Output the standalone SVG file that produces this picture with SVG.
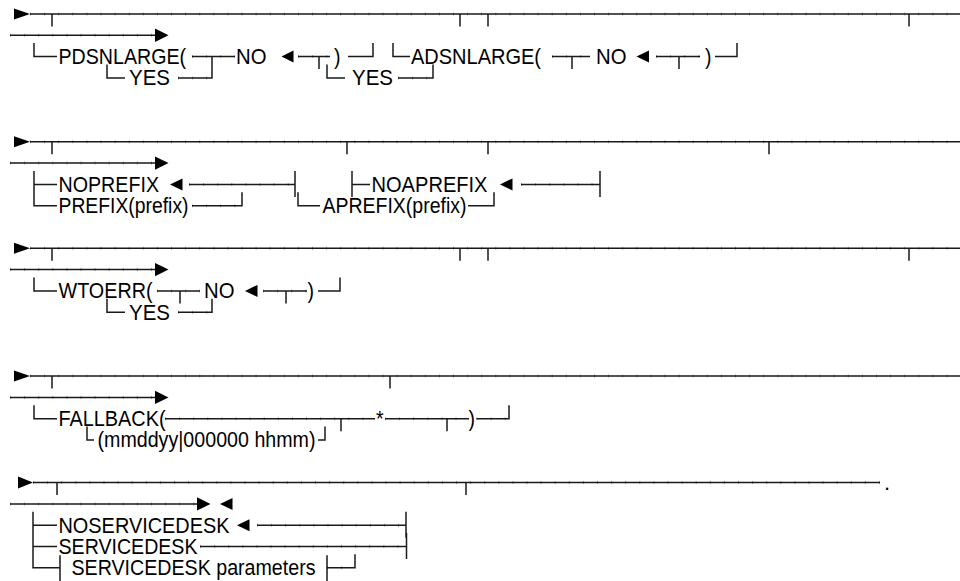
<svg xmlns="http://www.w3.org/2000/svg" width="960" height="581" viewBox="0 0 960 581">
<style>
.ln{fill:none;stroke:#1a1a1a;stroke-width:1.5}
.tk{fill:none;stroke:#000;stroke-width:3;stroke-dasharray:1 13.1;opacity:.35}
.t{font-family:"Liberation Sans",Arial,sans-serif;font-size:22px;fill:#000}
.ar{fill:#000}
</style>
<rect width="960" height="581" fill="#fff"/>
<g id="connectors">
<!-- block 1 -->
<path class="ln" d="M30,14H960M52,14V26.5M460,14V26.5M488,14V26.5M909,14V26.5M10,35.3H155M34,43.1V56.6H57M192,56.6H235M212,56.6V69M298,56.6H330M319,56.6V69M348,56.6H373V43.1M393,43.1V56.6H410M552,56.6H590M572,56.6V69M656,56.6H700M679,56.6V69M715,56.6H737V43.1M107,64.4V77.9H125M178,77.9H212V64.4M327,64.4V77.9H345M398,77.9H433V64.4"/>
<path class="tk" d="M30,14H960M10,35.3H155M192,56.6H235M298,56.6H330M552,56.6H590M656,56.6H700M178,77.9H212M398,77.9H433"/>
<polygon class="ar" points="14,8.5 30,14 14,19.5"/>
<polygon class="ar" points="155,28.6 168.5,35.3 155,42"/>
<polygon class="ar" points="281.5,56.6 293.5,50.6 293.5,62.6"/>
<polygon class="ar" points="636.5,56.6 649,50.6 649,62.6"/>
<!-- block 2 -->
<path class="ln" d="M30,141.8H960M52,141.8V154.3M347,141.8V154.3M488,141.8V154.3M769,141.8V154.3M10,163.1H155M34,170.9V205.7H57M34,184.4H57M189,184.4H295M295,170.9V196.9M192,205.7H242V192.2M298,192.2V205.7H320M468,205.7H494V192.2M352,170.9V196.9M352,184.4H370M521,184.4H600M600,170.9V196.9"/>
<path class="tk" d="M30,141.8H960M10,163.1H155M189,184.4H295M192,205.7H242M521,184.4H600"/>
<polygon class="ar" points="14,136.3 30,141.8 14,147.3"/>
<polygon class="ar" points="155,156.4 168.5,163.1 155,169.8"/>
<polygon class="ar" points="170,184.4 182.5,178.4 182.5,190.4"/>
<polygon class="ar" points="500,184.4 512.5,178.4 512.5,190.4"/>
<!-- block 3 -->
<path class="ln" d="M30,248.3H960M52,248.3V260.8M460,248.3V260.8M488,248.3V260.8M909,248.3V260.8M10,269.6H155M34,277.4V290.9H57M157,290.9H200M180,290.9V303.4M263,290.9H307M286,290.9V303.4M318,290.9H340V277.4M107,298.7V312.2H125M178,312.2H212V298.7"/>
<path class="tk" d="M30,248.3H960M10,269.6H155M157,290.9H200M263,290.9H307M178,312.2H212"/>
<polygon class="ar" points="14,242.8 30,248.3 14,253.8"/>
<polygon class="ar" points="155,262.9 168.5,269.6 155,276.3"/>
<polygon class="ar" points="245,290.9 257.5,284.9 257.5,296.9"/>
<!-- block 4 -->
<path class="ln" d="M30,376.1H960M52,376.1V388.6M390,376.1V388.6M10,397.4H155M34,405.2V418.7H57M165,418.7H375M385,418.7H469M341,418.7V431.2M447,418.7V431.2M476.5,418.7H509V405.2M87,426.5V440H94M318,440H325V426.5"/>
<path class="tk" d="M30,376.1H960M10,397.4H155M165,418.7H375M385,418.7H469M476.5,418.7H509"/>
<polygon class="ar" points="14,370.6 30,376.1 14,381.6"/>
<polygon class="ar" points="155,390.7 168.5,397.4 155,404.1"/>
<!-- block 5 -->
<path class="ln" d="M33,482.6H880M57,482.6V495.1M466,482.6V495.1M10,503.9H197M33,511.7V567.8H60M33,525.2H57M33,546.5H57M257,525.2H406M406,511.7V537.7M200,546.5H406.5M406.5,533V559M60,555.3V581M327,555.3V581M327,567.8H355V554.3"/>
<path class="tk" d="M33,482.6H880M10,503.9H197M257,525.2H406M200,546.5H406.5M327,567.8H355"/>
<polygon class="ar" points="18,476.6 33,482.6 18,488.6"/>
<polygon class="ar" points="197,497.2 210.5,503.9 197,510.6"/>
<polygon class="ar" points="220,503.9 232.5,497.9 232.5,509.9"/>
<polygon class="ar" points="237,525.2 249.5,519.2 249.5,531.2"/>
</g>
<g id="pdsnlarge"><text class="t" x="58.5" y="63.9" textLength="127.5" lengthAdjust="spacingAndGlyphs">PDSNLARGE(</text></g>
<g id="pdsnlarge-no"><text class="t" x="236" y="63.9" textLength="30.5" lengthAdjust="spacingAndGlyphs">NO</text></g>
<g id="pdsnlarge-close"><text class="t" x="334" y="63.9" textLength="6.5" lengthAdjust="spacingAndGlyphs">)</text></g>
<g id="pdsnlarge-yes"><text class="t" x="129" y="85.2" textLength="41" lengthAdjust="spacingAndGlyphs">YES</text></g>
<g id="adsnlarge"><text class="t" x="411" y="63.9" textLength="130" lengthAdjust="spacingAndGlyphs">ADSNLARGE(</text></g>
<g id="adsnlarge-no"><text class="t" x="596" y="63.9" textLength="30.5" lengthAdjust="spacingAndGlyphs">NO</text></g>
<g id="adsnlarge-close"><text class="t" x="705" y="63.9" textLength="6.5" lengthAdjust="spacingAndGlyphs">)</text></g>
<g id="adsnlarge-yes"><text class="t" x="352" y="85.2" textLength="41" lengthAdjust="spacingAndGlyphs">YES</text></g>
<g id="noprefix"><text class="t" x="58.5" y="191.7" textLength="100.5" lengthAdjust="spacingAndGlyphs">NOPREFIX</text></g>
<g id="prefix"><text class="t" x="58.5" y="213" textLength="130" lengthAdjust="spacingAndGlyphs">PREFIX(prefix)</text></g>
<g id="noaprefix"><text class="t" x="371.5" y="191.7" textLength="116" lengthAdjust="spacingAndGlyphs">NOAPREFIX</text></g>
<g id="aprefix"><text class="t" x="322.5" y="213" textLength="144" lengthAdjust="spacingAndGlyphs">APREFIX(prefix)</text></g>
<g id="wtoerr"><text class="t" x="58.5" y="298.2" textLength="94" lengthAdjust="spacingAndGlyphs">WTOERR(</text></g>
<g id="wtoerr-no"><text class="t" x="204" y="298.2" textLength="30.5" lengthAdjust="spacingAndGlyphs">NO</text></g>
<g id="wtoerr-close"><text class="t" x="307.5" y="298.2" textLength="6.5" lengthAdjust="spacingAndGlyphs">)</text></g>
<g id="wtoerr-yes"><text class="t" x="129" y="319.5" textLength="41" lengthAdjust="spacingAndGlyphs">YES</text></g>
<g id="fallback"><text class="t" x="58.5" y="426" textLength="107" lengthAdjust="spacingAndGlyphs">FALLBACK(</text></g>
<g id="fallback-star"><text class="t" x="376" y="426" textLength="7.6" lengthAdjust="spacingAndGlyphs">*</text></g>
<g id="fallback-close"><text class="t" x="468.5" y="426" textLength="6.5" lengthAdjust="spacingAndGlyphs">)</text></g>
<g id="fallback-date"><text class="t" x="97.5" y="447.3" textLength="218" lengthAdjust="spacingAndGlyphs">(mmddyy|000000 hhmm)</text></g>
<g id="noservicedesk"><text class="t" x="58.5" y="532.5" textLength="171" lengthAdjust="spacingAndGlyphs">NOSERVICEDESK</text></g>
<g id="servicedesk"><text class="t" x="58.5" y="553.8" textLength="139" lengthAdjust="spacingAndGlyphs">SERVICEDESK</text></g>
<g id="servicedesk-params"><text class="t" x="71.5" y="575.1" textLength="244" lengthAdjust="spacingAndGlyphs">SERVICEDESK parameters</text></g>
<g id="end-dot"><text class="t" x="884" y="489.6">.</text></g>
</svg>
